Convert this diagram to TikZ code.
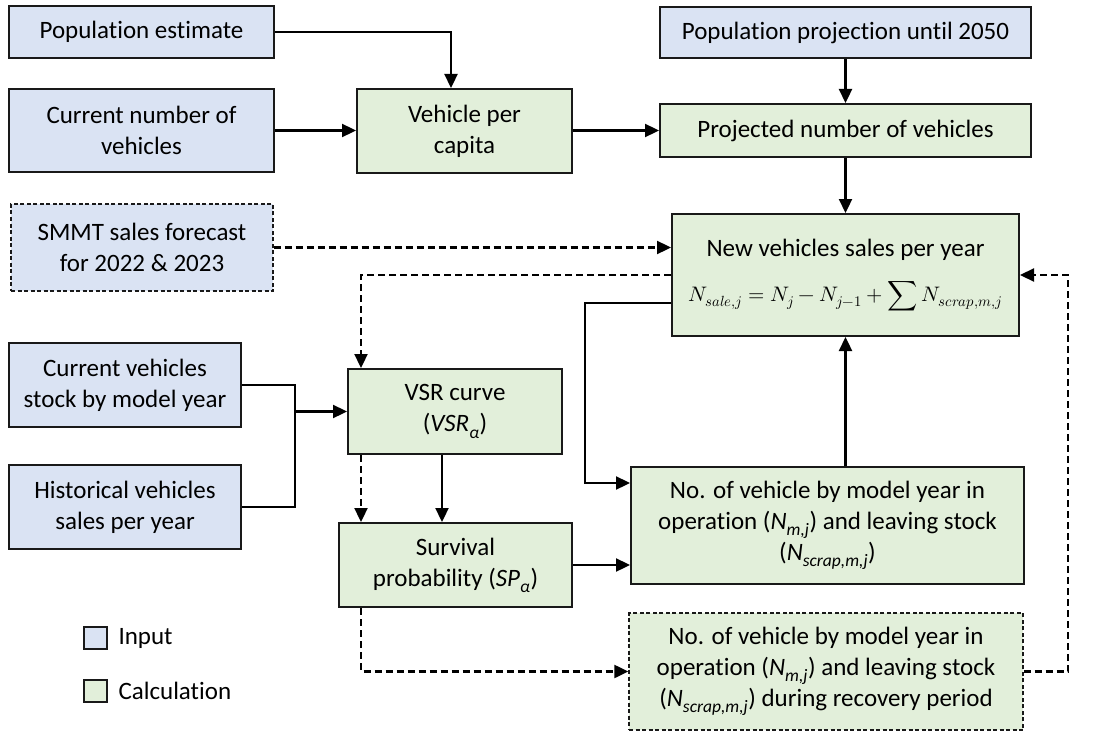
\documentclass[tikz,border=0pt]{standalone}
\usepackage{fontspec}
\usepackage{unicode-math}
\setmainfont{Carlito}[Ligatures=NoCommon]
\usetikzlibrary{arrows.meta,calc}
\definecolor{inblue}{HTML}{DAE3F3}
\definecolor{calgreen}{HTML}{E2EFDA}
\begin{document}
\begin{tikzpicture}[x=1pt,y=-1pt,
  txt/.style={font=\fontsize{25}{31}\selectfont, align=center, text=black},
  box/.style={txt, draw=black!90, line width=2pt, inner sep=2pt},
  inbox/.style={box, fill=inblue},
  calcbox/.style={box, fill=calgreen},
  dashbox/.style={line width=1.4pt, dash pattern=on 4pt off 2.5pt},
  arr/.style={line width=2.3pt, -{Triangle[length=14pt,width=13pt]}},
  darr/.style={arr, dash pattern=on 7pt off 4pt},
  sline/.style={line width=2.3pt},
  legsq/.style={draw=black!90, line width=2pt, minimum width=23pt, minimum height=22pt, inner sep=0pt}
]
\useasboundingbox (0,0) rectangle (1100,733);

% input boxes
\node[inbox, minimum width=265pt, minimum height=52pt] (popest) at (141.5,32) {Population estimate};
\node[inbox, minimum width=265pt, minimum height=83pt] (curnum) at (141.5,130.5) {Current number of\\vehicles};
\node[inbox, dashbox, minimum width=262pt, minimum height=87pt] (smmt) at (142,247.5) {SMMT sales forecast\\for 2022 \& 2023};
\node[inbox, minimum width=371pt, minimum height=51pt] (popproj) at (845.5,32.5) {Population projection until 2050};
\node[inbox, minimum width=232pt, minimum height=84pt] (stock) at (125,385) {Current vehicles\\stock by model year};
\node[inbox, minimum width=232pt, minimum height=84pt] (hist) at (125,507) {Historical vehicles\\sales per year};

% calculation boxes
\node[calcbox, minimum width=215pt, minimum height=84pt] (vpc) at (464.5,131) {Vehicle per\\capita};
\node[calcbox, minimum width=371pt, minimum height=53pt] (proj) at (845.5,130.5) {Projected number of vehicles};
\node[calcbox, minimum width=347pt, minimum height=122pt] (newsales) at (845.5,275)
  {New vehicles sales per year\\[14pt]{\fontsize{21}{25}\selectfont$\displaystyle N_{sale,j}=N_j-N_{j-1}+\sum\nolimits N_{scrap,m,j}$}};
\node[calcbox, minimum width=214pt, minimum height=85pt] (vsr) at (455,411.5) {VSR curve\\(\textit{VSR\textsubscript{α}})};
\node[calcbox, minimum width=233pt, minimum height=84pt] (surv) at (455.5,565) {Survival\\probability (\textit{SP\textsubscript{α}})};
\node[calcbox, minimum width=393pt, minimum height=117pt] (nveh) at (827.5,525.5)
  {No. of vehicle by model year in\\operation (\textit{N\textsubscript{m,j}}) and leaving stock\\(\textit{N\textsubscript{scrap,m,j}})};
\node[calcbox, dashbox, minimum width=394pt, minimum height=117pt] (nrec) at (826,671.5)
  {No. of vehicle by model year in\\operation (\textit{N\textsubscript{m,j}}) and leaving stock\\(\textit{N\textsubscript{scrap,m,j}}) during recovery period};

% legend
\node[legsq, fill=inblue] (legin) at (95.5,638) {};
\node[txt, anchor=west] (legintxt) at (115,638) {Input};
\node[legsq, fill=calgreen] (legcalc) at (95.5,690.5) {};
\node[txt, anchor=west] (legcalctxt) at (115,690.5) {Calculation};

% helper coordinates
\coordinate (dx) at (361,0);
\coordinate (jx) at (295,0);
\coordinate (lx) at (585,0);
\coordinate (rx) at (1068,0);
\coordinate (vpcin) at (451,0);
\coordinate (survin) at (442,0);

% connectors
\draw[arr] (popest.east) -| (vpcin |- vpc.north);
\draw[arr] (curnum.east) -- (curnum.east -| vpc.west);
\draw[arr] (vpc.east |- proj.west) -- (proj.west);
\draw[arr] (popproj.south) -- (proj.north);
\draw[arr] (proj.south) -- (newsales.north);
\draw[darr] (smmt.east) -- (smmt.east -| newsales.west);
\draw[darr] (newsales.west) -| (dx |- vsr.north);
\coordinate (nsout) at ([yshift=-28pt]newsales.west);
\coordinate (nvin) at ([yshift=42.5pt]nveh.west);
\draw[arr] (nsout) -| (lx |- nvin) -- (nvin);
\draw[arr] (newsales.south |- nveh.north) -- (newsales.south);
\draw[sline] (stock.east) -| (jx |- hist.east) -- (hist.east);
\draw[arr] (jx |- vsr.west) -- (vsr.west);
\draw[arr] (survin |- vsr.south) -- (survin |- surv.north);
\draw[darr] (dx |- vsr.south) -- (dx |- surv.north);
\draw[arr] (surv.east) -- (surv.east -| nveh.west);
\draw[darr] (dx |- surv.south) |- (nrec.west);
\draw[darr] (nrec.east) -| (rx |- newsales.east) -- (newsales.east);
\end{tikzpicture}
\end{document}
